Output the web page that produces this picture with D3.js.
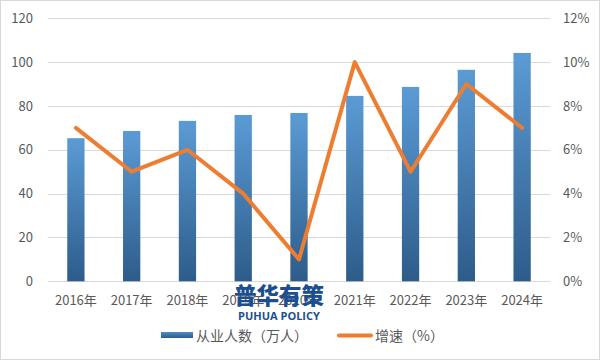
<!DOCTYPE html>
<html><head><meta charset="utf-8">
<script src="https://cdn.jsdelivr.net/npm/d3@7"></script>
<style>body{margin:0;background:#fff}svg{display:block}</style>
</head><body><svg id="c" width="600" height="360"></svg>
<script>
const categories = ["2016年","2017年","2018年","2019年","2020年","2021年","2022年","2023年","2024年"];
const employees = [65.3, 68.6, 73.2, 75.9, 76.8, 84.6, 88.7, 96.5, 104.2];
const growth = [7, 5, 6, 4, 1, 10, 5, 9, 7];
const leftTicks = [0,20,40,60,80,100,120];
const rightTicks = [0,2,4,6,8,10,12];
const legendLabels = ["从业人数（万人）","增速（%）"];

const svg = d3.select("#c");
const font = "'Microsoft YaHei','Noto Sans CJK SC',sans-serif";
const textColor = "#595959";
const L=48, R=550, T=18.3, B=281.3;

svg.append("rect").attr("x",0.5).attr("y",0.5).attr("width",599).attr("height",359)
  .attr("fill","#fff").attr("stroke","#D9D9D9");

const defs = svg.append("defs");
const g = defs.append("linearGradient").attr("id","barg").attr("x1",0).attr("y1",0).attr("x2",0).attr("y2",1);
g.append("stop").attr("offset","0%").attr("stop-color","#5B9BD5");
g.append("stop").attr("offset","100%").attr("stop-color","#2D5C8A");
const gl = defs.append("linearGradient").attr("id","legg").attr("x1",0).attr("y1",0).attr("x2",0).attr("y2",1);
gl.append("stop").attr("offset","0%").attr("stop-color","#4F8BC6");
gl.append("stop").attr("offset","100%").attr("stop-color","#2D5C8A");

const x = d3.scaleBand().domain(categories).range([L,R]).paddingInner(0.69).paddingOuter(0.345);
const y = d3.scaleLinear().domain([0,120]).range([B,T]);
const y2 = d3.scaleLinear().domain([0,12]).range([B,T]);

// gridlines
svg.append("g").selectAll("line").data(leftTicks).join("line")
  .attr("x1",L).attr("x2",R).attr("y1",d=>Math.round(y(d))+0.5).attr("y2",d=>Math.round(y(d))+0.5)
  .attr("stroke","#D9D9D9").attr("stroke-width",1);

// left axis
const ya = d3.axisLeft(y).tickValues(leftTicks).tickSize(0).tickPadding(0);
const yaG = svg.append("g").attr("transform",`translate(33,0)`).call(ya);
yaG.select(".domain").remove();
yaG.selectAll("text").attr("font-family",font).attr("font-size",13).attr("fill",textColor);

// right axis
const ya2 = d3.axisRight(y2).tickValues(rightTicks).tickSize(0).tickPadding(0).tickFormat(d=>d+"%");
const ya2G = svg.append("g").attr("transform",`translate(563,0)`).call(ya2);
ya2G.select(".domain").remove();
ya2G.selectAll("text").attr("font-family",font).attr("font-size",13).attr("fill",textColor);

// bars
svg.append("g").selectAll("rect").data(employees).join("rect")
  .attr("x",(d,i)=>x(categories[i])).attr("width",x.bandwidth())
  .attr("y",d=>y(d)).attr("height",d=>B-y(d)).attr("fill","url(#barg)");

// x axis
const xa = d3.axisBottom(x).tickSize(0).tickPadding(0);
const xaG = svg.append("g").attr("transform",`translate(0,${B})`).call(xa);
xaG.select(".domain").remove();
xaG.selectAll("text").attr("font-family",font).attr("font-size",13).attr("fill",textColor).attr("dy","0").attr("y",24);

// watermark
svg.append("text").attr("x",279).attr("y",303.5).attr("text-anchor","middle")
  .attr("font-family","'Noto Sans CJK SC',sans-serif").attr("font-weight",900).attr("font-size",22.5)
  .attr("fill","#1B4F8F").text("普华有策");
svg.append("text").attr("x",279).attr("y",320).attr("text-anchor","middle")
  .attr("font-family","'Open Sans','Noto Sans',sans-serif").attr("font-weight",700).attr("font-size",11)
  .attr("fill","#1B4F8F").text("PUHUA POLICY");

// line
const line = d3.line().x((d,i)=>x(categories[i])+x.bandwidth()/2).y(d=>y2(d));
svg.append("path").datum(growth).attr("d",line).attr("fill","none")
  .attr("stroke","#ED7D31").attr("stroke-width",4).attr("stroke-linejoin","round").attr("stroke-linecap","round");

// legend
svg.append("rect").attr("x",161).attr("y",332).attr("width",32).attr("height",6).attr("fill","url(#legg)");
svg.append("text").attr("x",196).attr("y",341).attr("font-family",font).attr("font-size",14).attr("fill",textColor).text(legendLabels[0]);
svg.append("line").attr("x1",339).attr("x2",371).attr("y1",335.5).attr("y2",335.5)
  .attr("stroke","#ED7D31").attr("stroke-width",4).attr("stroke-linecap","round");
svg.append("text").attr("x",375).attr("y",341).attr("font-family",font).attr("font-size",14).attr("fill",textColor).text(legendLabels[1]);
</script></body></html>
